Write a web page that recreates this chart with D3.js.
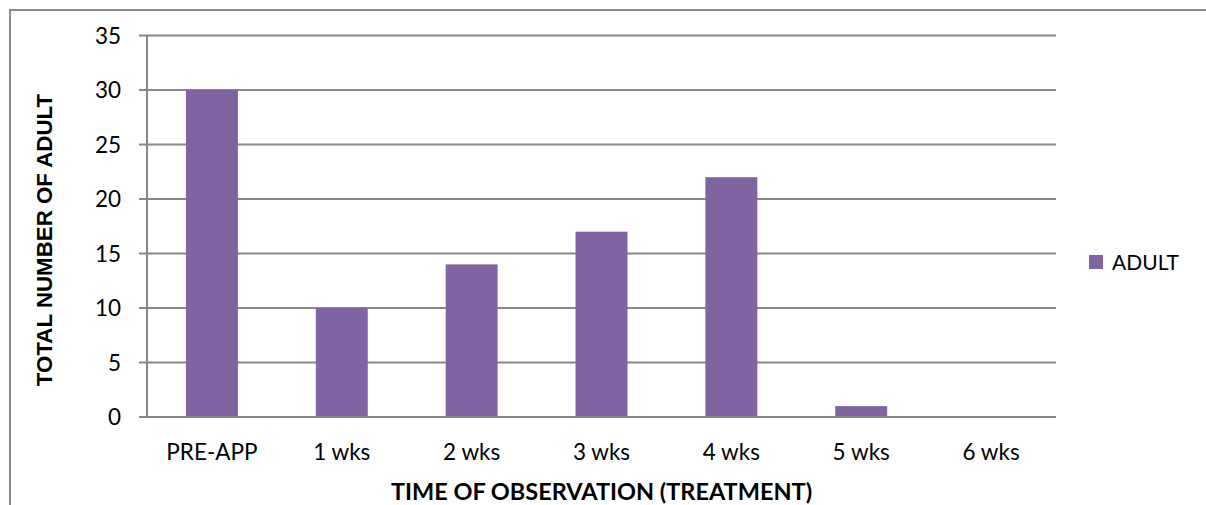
<!DOCTYPE html>
<html>
<head>
<meta charset="utf-8">
<script src="https://cdn.jsdelivr.net/npm/d3@7"></script>
<style>
  html, body { margin: 0; padding: 0; background: #fff; }
  svg { display: block; }
</style>
</head>
<body>
<svg id="chart" width="1206" height="505"></svg>
<script>
const categories = ["PRE-APP", "1 wks", "2 wks", "3 wks", "4 wks", "5 wks", "6 wks"];
const adultValues = [30, 10, 14, 17, 22, 1, 0];
const yTicks = [0, 5, 10, 15, 20, 25, 30, 35];
const seriesName = "ADULT";
const xTitle = "TIME OF OBSERVATION (TREATMENT)";
const yTitle = "TOTAL NUMBER OF ADULT";

const W = 1206, H = 505;
const plot = { left: 147, right: 1056, top: 35.5, bottom: 417 };
const purple = "#8064A2";
const gridColor = "#878787";
const labelFont = "Lato, 'Open Sans', sans-serif";

const svg = d3.select("#chart");

// Chart border (right and bottom are outside the captured area)
svg.append("path")
  .attr("d", `M10,${H + 2} L10,10 L${W + 2},10`)
  .attr("fill", "none")
  .attr("stroke", "#8c8c8c")
  .attr("stroke-width", 2);

const x = d3.scaleBand().domain(categories).range([plot.left, plot.right]).padding(0);
const y = d3.scaleLinear().domain([0, 35]).range([plot.bottom, plot.top]);

// Gridlines
svg.append("g").selectAll("line")
  .data(yTicks.filter(d => d > 0))
  .join("line")
  .attr("x1", plot.left - 8).attr("x2", plot.right)
  .attr("y1", d => y(d)).attr("y2", d => y(d))
  .attr("stroke", gridColor).attr("stroke-width", 2);

// Bars
const barW = x.bandwidth() * 0.4;
svg.append("g").selectAll("rect")
  .data(categories.map((c, i) => ({ c, v: adultValues[i] })))
  .join("rect")
  .attr("x", d => x(d.c) + (x.bandwidth() - barW) / 2)
  .attr("width", barW)
  .attr("y", d => y(d.v))
  .attr("height", d => y(0) - y(d.v))
  .attr("fill", purple);

// Y axis line
svg.append("line")
  .attr("x1", plot.left).attr("x2", plot.left)
  .attr("y1", plot.top).attr("y2", plot.bottom)
  .attr("stroke", gridColor).attr("stroke-width", 2);

// X axis baseline
svg.append("line")
  .attr("x1", plot.left - 8).attr("x2", plot.right)
  .attr("y1", y(0)).attr("y2", y(0))
  .attr("stroke", gridColor).attr("stroke-width", 2);

// Y tick labels
svg.append("g").selectAll("text")
  .data(yTicks)
  .join("text")
  .attr("x", 121)
  .attr("y", d => y(d))
  .attr("dy", "0.36em")
  .attr("text-anchor", "end")
  .attr("font-family", labelFont)
  .attr("font-size", 22.5)
  .attr("fill", "#000")
  .text(d => d);

// X category labels
svg.append("g").selectAll("text")
  .data(categories)
  .join("text")
  .attr("x", d => x(d) + x.bandwidth() / 2)
  .attr("y", 460)
  .attr("text-anchor", "middle")
  .attr("font-family", labelFont)
  .attr("font-size", 22.5)
  .attr("fill", "#000")
  .text(d => d);

// X title
svg.append("text")
  .attr("x", (plot.left + plot.right) / 2)
  .attr("y", 500)
  .attr("text-anchor", "middle")
  .attr("font-family", labelFont)
  .attr("font-weight", "bold")
  .attr("font-size", 23.5)
  .attr("fill", "#000")
  .text(xTitle);

// Y title
svg.append("text")
  .attr("transform", `translate(52, 240) rotate(-90)`)
  .attr("text-anchor", "middle")
  .attr("font-family", "'Liberation Sans', Arial, sans-serif")
  .attr("font-weight", "bold")
  .attr("font-size", 22.3)
  .attr("fill", "#000")
  .text(yTitle);

// Legend
svg.append("rect")
  .attr("x", 1089).attr("y", 255)
  .attr("width", 14).attr("height", 14)
  .attr("fill", purple);
svg.append("text")
  .attr("x", 1112).attr("y", 262)
  .attr("dy", "0.36em")
  .attr("font-family", labelFont)
  .attr("font-size", 21)
  .attr("fill", "#000")
  .text(seriesName);
</script>
</body>
</html>
